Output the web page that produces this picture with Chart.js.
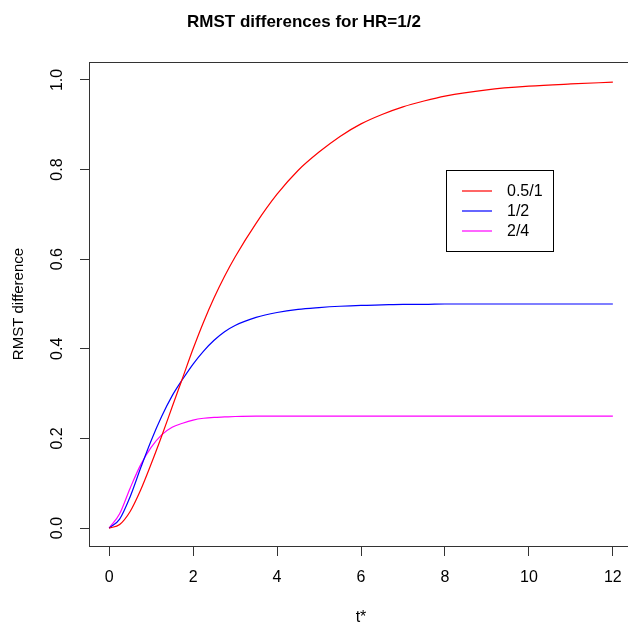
<!DOCTYPE html>
<html>
<head>
<meta charset="utf-8">
<script src="https://cdn.jsdelivr.net/npm/chart.js@4.4.0/dist/chart.umd.min.js"></script>
<style>
  html, body { margin: 0; padding: 0; background: #fff; overflow: hidden; }
  #wrap { width: 628px; height: 625px; overflow: hidden; }
  canvas { display: block; }
</style>
</head>
<body>
<div id="wrap"><canvas id="rmst" width="640" height="625"></canvas></div>
<script>
// values
const tStar = [0, 0.25, 0.5, 0.75, 1, 1.25, 1.5, 1.75, 2, 2.25, 2.5, 2.75, 3, 3.5, 4, 4.5, 5, 5.5, 6, 6.5, 7, 7.5, 8, 9, 10, 11, 12];
const diffHalfOne = [0, 0.008, 0.037, 0.085, 0.143, 0.205, 0.27, 0.335, 0.40, 0.46, 0.514, 0.562, 0.605, 0.68, 0.745, 0.798, 0.839, 0.874, 0.902, 0.923, 0.94, 0.953, 0.964, 0.978, 0.986, 0.991, 0.995];
const diffOneTwo = [0, 0.02, 0.07, 0.134, 0.195, 0.249, 0.295, 0.332, 0.366, 0.395, 0.419, 0.438, 0.452, 0.470, 0.481, 0.488, 0.492, 0.495, 0.497, 0.498, 0.499, 0.499, 0.5, 0.5, 0.5, 0.5, 0.5];
const diffTwoFour = [0, 0.032, 0.089, 0.141, 0.18, 0.208, 0.225, 0.234, 0.241, 0.245, 0.247, 0.248, 0.249, 0.25, 0.25, 0.25, 0.25, 0.25, 0.25, 0.25, 0.25, 0.25, 0.25, 0.25, 0.25, 0.25, 0.25];
const seriesLabels = ['0.5/1', '1/2', '2/4'];
const xTicks = [0, 2, 4, 6, 8, 10, 12];
const yTicks = [0, 0.2, 0.4, 0.6, 0.8, 1.0];
const yTickLabels = ['0.0', '0.2', '0.4', '0.6', '0.8', '1.0'];

const FONT = 'Liberation Sans, Arial, sans-serif';
const AXIS = '#333';

function pts(arr) {
    return tStar.map((t, i) => ({ x: t, y: arr[i] }));
}

function makeSet(label, arr, color) {
    return {
        label: label,
        data: pts(arr),
        borderColor: color,
        borderWidth: 1.2,
        pointRadius: 0,
        fill: false,
        cubicInterpolationMode: 'monotone'
    };
}

// R-like extras: title, box, rotated y labels, legend
const rDecor = {
    id: 'rDecor',
    afterDraw(chart) {
        const c = chart.ctx;
        const a = chart.chartArea;
        const y = chart.scales.y;
        c.save();

        // box
        c.strokeStyle = AXIS;
        c.lineWidth = 1;
        c.strokeRect(a.left + 0.5, a.top + 0.5, a.right - a.left, a.bottom - a.top);

        // title
        c.fillStyle = '#000';
        c.font = 'bold 17px ' + FONT;
        c.textAlign = 'center';
        c.textBaseline = 'middle';
        c.fillText('RMST differences for HR=1/2', 304, 22);

        // y tick labels, rotated like R
        c.font = '16px ' + FONT;
        yTicks.forEach((v, i) => {
            c.save();
            c.translate(58, y.getPixelForValue(v));
            c.rotate(-Math.PI / 2);
            c.fillText(yTickLabels[i], 0, 0);
            c.restore();
        });

        // legend
        const lx = 446, ly = 170, lw = 107, lh = 81;
        c.fillStyle = '#fff';
        c.fillRect(lx, ly, lw, lh);
        c.strokeStyle = '#000';
        c.strokeRect(lx + 0.5, ly + 0.5, lw, lh);
        c.textAlign = 'left';
        chart.data.datasets.forEach((ds, i) => {
            const rowY = 191 + i * 20;
            c.strokeStyle = ds.borderColor;
            c.lineWidth = 1.2;
            c.beginPath();
            c.moveTo(462, rowY);
            c.lineTo(492, rowY);
            c.stroke();
            c.fillStyle = '#000';
            c.fillText(ds.label, 507, rowY + 1);
        });
        c.restore();
    }
};

new Chart(document.getElementById('rmst'), {
    type: 'line',
    data: {
        datasets: [
            makeSet(seriesLabels[0], diffHalfOne, '#ff0000'),
            makeSet(seriesLabels[1], diffOneTwo, '#0000ff'),
            makeSet(seriesLabels[2], diffTwoFour, '#ff00ff')
        ]
    },
    options: {
        responsive: false,
        animation: false,
        layout: { padding: { top: 62, right: 7, bottom: 0, left: 0 } },
        plugins: {
            legend: { display: false },
            tooltip: { enabled: false }
        },
        scales: {
            x: {
                type: 'linear',
                min: -0.48,
                max: 12.48,
                afterBuildTicks: s => { s.ticks = xTicks.map(v => ({ value: v })); },
                afterFit: s => { s.height = 79; },
                grid: { drawOnChartArea: false, tickLength: 10, tickColor: AXIS, tickWidth: 1 },
                border: { color: AXIS, width: 1 },
                ticks: { color: '#000', font: { family: FONT, size: 16 }, padding: 12, maxRotation: 0 },
                title: {
                    display: true,
                    text: 't*',
                    color: '#000',
                    font: { family: FONT, size: 16, lineHeight: 0.9 },
                    padding: { top: 0, bottom: 0 }
                }
            },
            y: {
                type: 'linear',
                min: -0.04,
                max: 1.04,
                afterBuildTicks: s => { s.ticks = yTicks.map(v => ({ value: v })); },
                afterFit: s => { s.width = 89; },
                grid: { drawOnChartArea: false, tickLength: 9, tickColor: AXIS, tickWidth: 1 },
                border: { color: AXIS, width: 1 },
                ticks: { display: false },
                title: {
                    display: true,
                    text: 'RMST difference',
                    color: '#000',
                    font: { family: FONT, size: 15, lineHeight: 1.2 },
                    padding: { top: 10, bottom: 0 }
                }
            }
        }
    },
    plugins: [rDecor]
});
</script>
</body>
</html>
